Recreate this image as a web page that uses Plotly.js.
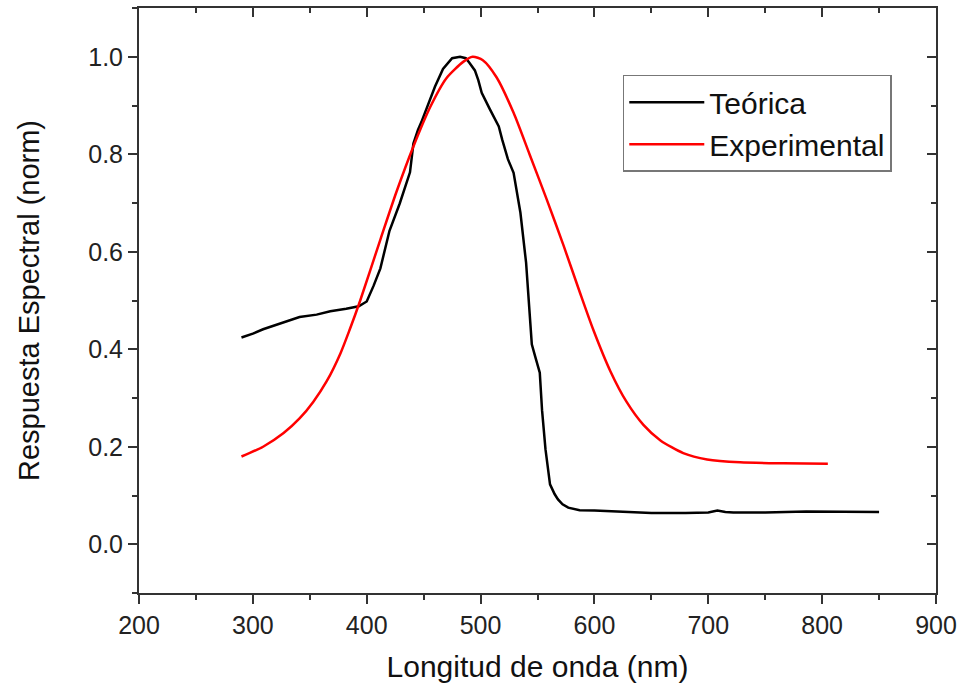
<!DOCTYPE html>
<html>
<head>
<meta charset="utf-8">
<script src="https://cdn.plot.ly/plotly-3.0.1.min.js"></script>
<style>html,body{margin:0;padding:0;background:#fff;}#chart{width:963px;height:698px;}</style>
</head>
<body>
<div id="chart"></div>
<script>
// Teórica (black)
const teoricaX = [290,300,309,325,341,356,368,382,393,400,406,412,420,429,438,441,445,448,455,460,467,475,482,487,490,495,498,501,508,516,519,524,529,535,540,542,545,548,552,554,557,561,565,568,572,577,587,600,620,650,680,700,708,715,722,750,786,820,850];
const teoricaY = [0.424,0.432,0.441,0.454,0.466,0.471,0.478,0.483,0.488,0.498,0.530,0.566,0.643,0.699,0.763,0.822,0.850,0.866,0.910,0.939,0.975,0.997,1.000,0.997,0.988,0.972,0.952,0.926,0.893,0.857,0.830,0.790,0.762,0.680,0.577,0.505,0.410,0.385,0.352,0.275,0.195,0.123,0.103,0.092,0.082,0.075,0.070,0.069,0.067,0.064,0.064,0.065,0.069,0.066,0.065,0.065,0.067,0.066,0.066];

// Experimental (red)
const expX = [290,309,327,341,353,365,377,385,394,412,426,441,456,470,485,493,502,514,529,543,558,573,587,599,614,628,643,658,678,699,728,766,805];
const expY = [0.180,0.200,0.228,0.258,0.292,0.335,0.392,0.440,0.498,0.625,0.722,0.816,0.898,0.956,0.990,1.000,0.993,0.958,0.885,0.800,0.708,0.612,0.518,0.440,0.355,0.293,0.245,0.213,0.187,0.174,0.168,0.166,0.165];

const seriesNames = ["Teórica", "Experimental"];
const xTitle = "Longitud de onda (nm)";
const yTitle = "Respuesta Espectral (norm)";

const FONT = "Liberation Sans, Arial, sans-serif";
const AX = "#333333";

const traces = [
  {x: teoricaX, y: teoricaY, name: seriesNames[0], type: "scatter", mode: "lines",
   line: {color: "#000000", width: 2.5}},
  {x: expX, y: expY, name: seriesNames[1], type: "scatter", mode: "lines",
   line: {color: "#ff0000", width: 2.5, shape: "spline", smoothing: 0.7}},
  {x: [], y: [], xaxis: "x2", yaxis: "y2", showlegend: false, hoverinfo: "skip", type: "scatter", mode: "lines"}
];

const layout = {
  width: 963, height: 698,
  margin: {l: 139, r: 27, t: 8, b: 105},
  paper_bgcolor: "#fff", plot_bgcolor: "#fff",
  font: {family: FONT, color: "#222"},
  showlegend: true,
  legend: {x: 0.607, y: 0.886, xanchor: "left", yanchor: "top",
           bgcolor: "#fff", bordercolor: "#777", borderwidth: 1.5,
           font: {family: FONT, size: 30, color: "#111"}, itemwidth: 75,
           tracegroupgap: 0},
  xaxis: {range: [200, 900], tick0: 200, dtick: 100, ticks: "outside", ticklen: 9, tickwidth: 2,
          tickcolor: AX, showline: true, linecolor: AX, linewidth: 2, showgrid: false, zeroline: false,
          tickfont: {family: FONT, size: 25, color: "#222"},
          minor: {dtick: 50, ticks: "outside", ticklen: 5, tickwidth: 2, tickcolor: AX, showgrid: false},
          title: {text: xTitle, font: {family: FONT, size: 30, color: "#111"}, standoff: 18}},
  yaxis: {range: [-0.1, 1.1], tick0: 0, dtick: 0.2, tickformat: ".1f", ticks: "outside", ticklen: 9, tickwidth: 2,
          tickcolor: AX, showline: true, linecolor: AX, linewidth: 2, showgrid: false, zeroline: false,
          tickfont: {family: FONT, size: 25, color: "#222"},
          minor: {dtick: 0.1, ticks: "outside", ticklen: 5, tickwidth: 2, tickcolor: AX, showgrid: false},
          title: {text: yTitle, font: {family: FONT, size: 29, color: "#111"}, standoff: 40}},
  xaxis2: {overlaying: "x", side: "top", anchor: "y2", range: [200, 900], tick0: 200, dtick: 100,
           ticks: "inside", ticklen: 9, tickwidth: 2, tickcolor: AX, showticklabels: false,
           showline: true, linecolor: AX, linewidth: 2, showgrid: false, zeroline: false,
           minor: {dtick: 50, ticks: "inside", ticklen: 5, tickwidth: 2, tickcolor: AX, showgrid: false}},
  yaxis2: {overlaying: "y", side: "right", anchor: "x2", range: [-0.1, 1.1], tick0: 0, dtick: 0.2,
           ticks: "inside", ticklen: 9, tickwidth: 2, tickcolor: AX, showticklabels: false,
           showline: true, linecolor: AX, linewidth: 2, showgrid: false, zeroline: false,
           minor: {dtick: 0.1, ticks: "inside", ticklen: 5, tickwidth: 2, tickcolor: AX, showgrid: false}}
};

Plotly.newPlot("chart", traces, layout, {displayModeBar: false, staticPlot: true});
</script>
</body>
</html>
